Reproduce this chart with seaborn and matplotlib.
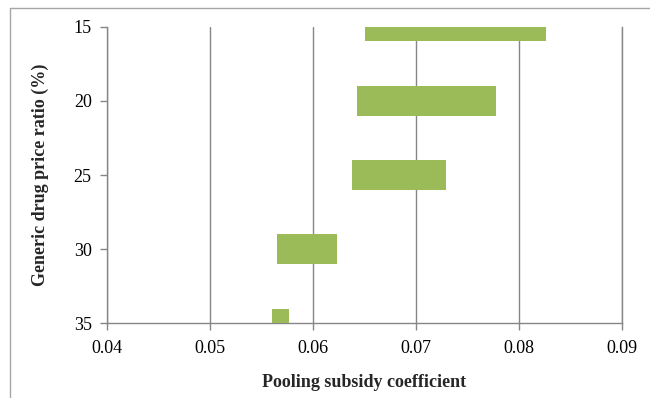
import matplotlib
matplotlib.use("Agg")
import matplotlib.pyplot as plt
from matplotlib.lines import Line2D
import seaborn as sns
import pandas as pd

# Data
price_ratio = [15, 20, 25, 30, 35]
coef_low = [0.0650, 0.0643, 0.0638, 0.0565, 0.0560]
coef_high = [0.0826, 0.0778, 0.0729, 0.0623, 0.0577]
x_ticks = [0.04, 0.05, 0.06, 0.07, 0.08, 0.09]
x_tick_labels = ["0.04", "0.05", "0.06", "0.07", "0.08", "0.09"]
y_ticks = [15, 20, 25, 30, 35]

df = pd.DataFrame({
    "ratio": price_ratio,
    "low": coef_low,
    "span": [h - l for h, l in zip(coef_high, coef_low)],
})

sns.set_style("white")
plt.rcParams["font.family"] = ["Liberation Serif", "DejaVu Serif"]
plt.rcParams["font.serif"] = ["Liberation Serif", "DejaVu Serif"]

fig = plt.figure(figsize=(6.5, 3.98), dpi=100)
ax = fig.add_axes([0.1646, 0.1872, 0.957 - 0.1646, 0.9332 - 0.1872])

sns.barplot(data=df, x="span", y="ratio", orient="h", native_scale=True,
            width=0.4, left=df["low"].values, color="#9BBB59", saturation=1,
            errorbar=None, linewidth=0, ax=ax, zorder=3)

ax.set_xlim(0.04, 0.09)
ax.set_ylim(35, 15)
ax.set_xticks(x_ticks)
ax.set_xticklabels(x_tick_labels, fontfamily="Liberation Serif")
ax.set_yticks(y_ticks)
ax.set_yticklabels([str(v) for v in y_ticks], fontfamily="Liberation Serif")

grid_c = "#868686"
ax.grid(axis="x", color=grid_c, linewidth=1.0, zorder=1)
ax.grid(axis="y", visible=False)
ax.set_axisbelow(True)
ax.spines["top"].set_visible(False)
for s in ["left", "bottom", "right"]:
    ax.spines[s].set_visible(True)
    ax.spines[s].set_color(grid_c)
    ax.spines[s].set_linewidth(1.0)
ax.tick_params(axis="both", which="major", direction="out", length=5, width=1.0,
               color=grid_c, labelsize=13, labelcolor="black")
ax.tick_params(axis="x", pad=7)
ax.tick_params(axis="y", pad=6)
ax.tick_params(bottom=True, left=True, right=False, top=False)

ax.set_xlabel("Pooling subsidy coefficient", fontsize=13, fontweight="bold",
              labelpad=12, fontfamily="Liberation Serif")
ax.set_ylabel("Generic drug price ratio (%)", fontsize=13, fontweight="bold",
              labelpad=18, fontfamily="Liberation Serif")

# outer chart border (left and top only visible)
bx = 9.5 / 650
by = 1 - 7.5 / 398
fig.add_artist(Line2D([bx, bx], [0, by], transform=fig.transFigure, color="#a6a6a6", linewidth=1))
fig.add_artist(Line2D([bx, 1], [by, by], transform=fig.transFigure, color="#a6a6a6", linewidth=1))

fig.savefig("out.png", dpi=100)
